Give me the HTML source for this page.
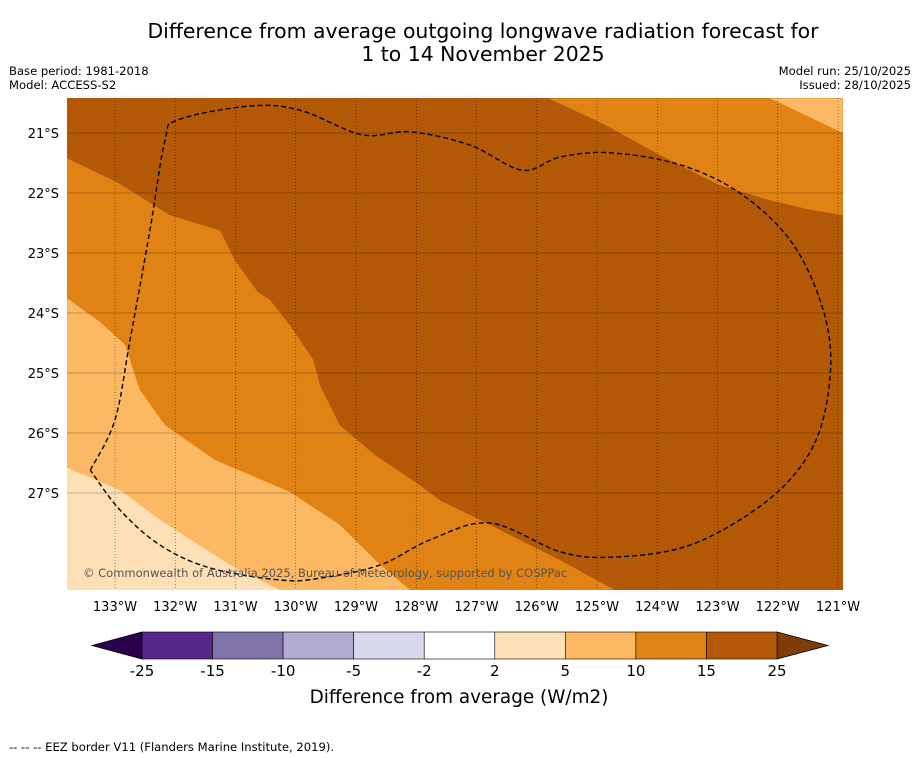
<!DOCTYPE html>
<html><head><meta charset="utf-8">
<style>
body{margin:0;background:#fff;font-family:"DejaVu Sans","Liberation Sans",sans-serif;}
svg{display:block}
</style></head>
<body>
<svg id="chart" width="919" height="758" viewBox="0 0 919 758">
<text x="483" y="38" text-anchor="middle" font-size="20.4">Difference from average outgoing longwave radiation forecast for</text>
<text x="483" y="61" text-anchor="middle" font-size="20.4">1 to 14 November 2025</text>
<text x="9" y="75" font-size="11.6">Base period: 1981-2018</text>
<text x="9" y="89" font-size="11.6">Model: ACCESS-S2</text>
<text x="911" y="75" font-size="11.6" text-anchor="end">Model run: 25/10/2025</text>
<text x="911" y="89" font-size="11.6" text-anchor="end">Issued: 28/10/2025</text>
<g id="map"></g>
<g id="axes"></g>
<g id="cbar"></g>
<text x="459" y="703" text-anchor="middle" font-size="18.4">Difference from average (W/m2)</text>
<text x="9" y="751" font-size="11.6">--  --  -- EEZ border V11 (Flanders Marine Institute, 2019).</text>
</svg>
<script>
const lonTicks=[133,132,131,130,129,128,127,126,125,124,123,122,121];
const latTicks=[21,22,23,24,25,26,27];
const levelBounds=[-25,-15,-10,-5,-2,2,5,10,15,25];
const levelColors=["#542788","#8073ac","#b2abd2","#d8daeb","#ffffff","#fee0b6","#fdb863","#e08214","#b35806"];
const extLowColor="#2d004b", extHighColor="#7f3b08";
// contour regions (lon °W, lat °S)
const band10to15Left=[[133.8,21.42],[132.95,21.83],[132.09,22.37],[131.26,22.62],[131.01,23.12],[130.63,23.65],[130.43,23.78],[130.1,24.2],[129.71,24.78],[129.6,25.2],[129.27,25.87],[128.68,26.37],[127.94,26.87],[127.61,27.12],[126.78,27.53],[125.61,28.12],[124.7,28.62],[133.8,28.62]];
const band10to15Right=[[125.81,20.42],[124.95,20.82],[123.95,21.37],[122.96,21.87],[122.13,22.12],[121.46,22.28],[120.92,22.37],[120.92,20.42]];
const band5to10Left=[[133.8,23.75],[133.25,24.15],[132.83,24.53],[132.59,25.28],[132.17,25.87],[131.34,26.45],[130.1,26.98],[129.27,27.53],[128.68,28.12],[128.1,28.62],[133.8,28.62]];
const band5to10Right=[[122.13,20.42],[120.92,21.0],[120.92,20.42]];
const band2to5=[[133.8,26.58],[132.92,26.95],[132.25,27.45],[131.09,28.2],[130.26,28.62],[133.8,28.62]];
const eezLon=[133.41,133,132.75,132.42,132.17,131.95,130.76,129.93,128.9,128.1,127.11,126.24,125.61,124.78,123.62,122.63,121.8,121.3,121.12,121.3,121.8,122.63,123.62,124.78,125.61,126.78,127.77,128.6,129.6,130.26,131.42,132.25,132.92,133.41];
const eezLat=[26.62,25.78,24.45,22.62,21.12,20.78,20.55,20.62,21.03,20.98,21.2,21.62,21.4,21.33,21.53,22,22.78,23.78,24.78,25.95,26.78,27.45,27.92,28.07,27.98,27.5,27.78,28.2,28.42,28.45,28.25,27.87,27.28,26.62];

const NS="http://www.w3.org/2000/svg";
const X0=67,X1=843,Y0=98,Y1=590;
const xs=lon=>115+(133-lon)*60.25;
const ys=lat=>133+(lat-21)*60;
function mk(tag,attrs,parent){const e=document.createElementNS(NS,tag);for(const k in attrs)e.setAttribute(k,attrs[k]);parent.appendChild(e);return e;}
const map=document.getElementById('map');
const defs=mk('defs',{},document.getElementById('chart'));
const cp=mk('clipPath',{id:'clip'},defs);mk('rect',{x:X0,y:Y0,width:X1-X0,height:Y1-Y0},cp);
const g=mk('g',{'clip-path':'url(#clip)'},map);
const bg=mk('rect',{x:X0,y:Y0,width:X1-X0,height:Y1-Y0,fill:levelColors[8]},g);


function poly(pts,fill,name){const p=mk('polygon',{points:pts.map(q=>xs(q[0])+','+ys(q[1])).join(' '),fill:fill},g);

}
poly(band10to15Left,levelColors[7],'band-10-15-west');
poly(band10to15Right,levelColors[7],'band-10-15-northeast');
poly(band5to10Left,levelColors[6],'band-5-10-west');
poly(band5to10Right,levelColors[6],'band-5-10-northeast');
poly(band2to5,levelColors[5],'band-2-5-southwest');
// grid
lonTicks.forEach(l=>{const ln=mk('line',{x1:xs(l),x2:xs(l),y1:Y0,y2:Y1,stroke:'#000','stroke-width':0.6,'stroke-dasharray':'1,2','stroke-opacity':0.7},g);

});
latTicks.forEach(l=>{const ln=mk('line',{x1:X0,x2:X1,y1:ys(l),y2:ys(l),stroke:'#000','stroke-width':0.6,'stroke-opacity':0.45},g);

});
// EEZ (smoothed)
const ep=eezLon.map((l,i)=>[xs(l),ys(eezLat[i])]);
let d='M'+ep[0][0]+','+ep[0][1];
for(let i=0;i<ep.length-1;i++){const p0=ep[Math.max(i-1,0)],p1=ep[i],p2=ep[i+1],p3=ep[Math.min(i+2,ep.length-1)];
d+=` C${p1[0]+(p2[0]-p0[0])/6},${p1[1]+(p2[1]-p0[1])/6} ${p2[0]-(p3[0]-p1[0])/6},${p2[1]-(p3[1]-p1[1])/6} ${p2[0]},${p2[1]}`;}
const eez=mk('path',{d:d,fill:'none',stroke:'#000','stroke-width':1.4,'stroke-dasharray':'5,3'},g);


const cr=mk('text',{x:83,y:577,'font-size':11.5,fill:'#555'},map);cr.textContent='© Commonwealth of Australia 2025, Bureau of Meteorology, supported by COSPPac';


const axes=document.getElementById('axes');
lonTicks.forEach(l=>{const t=mk('text',{x:xs(l),y:611,'text-anchor':'middle','font-size':13},axes);t.textContent=l+'°W';

});
latTicks.forEach(l=>{const t=mk('text',{x:59,y:ys(l)+5,'text-anchor':'end','font-size':13},axes);t.textContent=l+'°S';

});
// colorbar
const cb=document.getElementById('cbar');
const CB0=142,CB1=777,CBy=632,CBh=27;const w=(CB1-CB0)/levelColors.length;
const lo=mk('polygon',{points:`${CB0},${CBy} 92,${CBy+CBh/2} ${CB0},${CBy+CBh}`,fill:extLowColor,stroke:'#000','stroke-width':0.8},cb);


const hi=mk('polygon',{points:`${CB1},${CBy} 828,${CBy+CBh/2} ${CB1},${CBy+CBh}`,fill:extHighColor,stroke:'#000','stroke-width':0.8},cb);


levelColors.forEach((c,i)=>{const r=mk('rect',{x:CB0+i*w,y:CBy,width:w,height:CBh,fill:c,stroke:'#000','stroke-width':0.6},cb);

});
levelBounds.forEach((v,i)=>{const t=mk('text',{x:CB0+i*w,y:676,'text-anchor':'middle','font-size':15},cb);t.textContent=v;

});
</script>
</body></html>
